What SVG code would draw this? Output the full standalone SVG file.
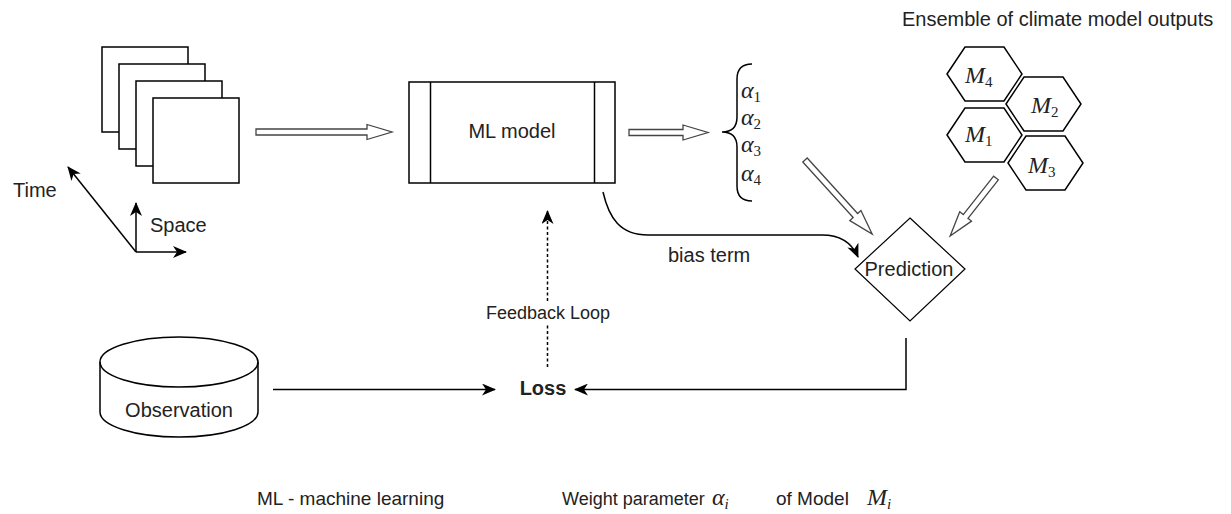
<svg xmlns="http://www.w3.org/2000/svg" width="1231" height="514" viewBox="0 0 1231 514">
<defs>
<marker id="arr" markerUnits="userSpaceOnUse" markerWidth="14" markerHeight="12" viewBox="0 0 14 12" refX="13" refY="6" orient="auto">
<path d="M0,0 L14,6 L0,12 L4,6 Z" fill="#000"/>
</marker>
<style>
text{font-family:"Liberation Sans",Arial,sans-serif;font-size:20px;fill:#222}
.m{font-family:"Liberation Serif","Times New Roman",serif;font-style:italic;font-size:24px}
.sub{font-family:"Liberation Serif","Times New Roman",serif;font-style:normal;font-size:15px}
.subi{font-family:"Liberation Serif","Times New Roman",serif;font-style:italic;font-size:15px}
.box{fill:#fff;stroke:#000;stroke-width:1.5}
.hol{fill:#fff;stroke:#444;stroke-width:1.3;stroke-linejoin:miter}
.ln{fill:none;stroke:#000;stroke-width:1.5}
</style>
</defs>
<rect width="1231" height="514" fill="#fff"/>

<g id="frames">
<rect class="box" x="102" y="47" width="86" height="85"/>
<rect class="box" x="119" y="64" width="86" height="85"/>
<rect class="box" x="136" y="81" width="86" height="85"/>
<rect class="box" x="153" y="98" width="86" height="85"/>
</g>

<g id="axes">
<line class="ln" x1="136" y1="252" x2="136" y2="203" marker-end="url(#arr)"/>
<line class="ln" x1="136" y1="252" x2="186" y2="252" marker-end="url(#arr)"/>
<line class="ln" x1="136" y1="252" x2="68" y2="167" marker-end="url(#arr)"/>
<text x="13" y="197">Time</text>
<text x="150" y="232">Space</text>
</g>

<g id="ml-model">
<rect class="box" x="409" y="82" width="206" height="101"/>
<line class="ln" x1="430.5" y1="82" x2="430.5" y2="183"/>
<line class="ln" x1="594.5" y1="82" x2="594.5" y2="183"/>
<text x="512" y="138" text-anchor="middle">ML model</text>
</g>

<g id="alphas">
<path class="ln" d="M752,64 Q737,64 737,79 L737,117 Q737,132 722,132 Q737,132 737,147 L737,186 Q737,201 752,201"/>
<text class="m" x="741" y="98">α<tspan class="sub" dy="4">1</tspan></text>
<text class="m" x="741" y="125">α<tspan class="sub" dy="4">2</tspan></text>
<text class="m" x="741" y="152">α<tspan class="sub" dy="4">3</tspan></text>
<text class="m" x="741" y="181">α<tspan class="sub" dy="4">4</tspan></text>
</g>

<g id="ensemble">
<text x="902" y="26">Ensemble of climate model outputs</text>
<polygon class="box" points="947,74 965,47 1004,47 1022,74 1004,101 965,101"/>
<polygon class="box" points="1006,104 1024,77 1063,77 1081,104 1063,131 1024,131"/>
<polygon class="box" points="947,135 965,108 1004,108 1022,135 1004,162 965,162"/>
<polygon class="box" points="1008,163 1026,136 1065,136 1083,163 1065,190 1026,190"/>
<text class="m" x="965" y="83">M<tspan class="sub" dy="4">4</tspan></text>
<text class="m" x="1031" y="113">M<tspan class="sub" dy="4">2</tspan></text>
<text class="m" x="965" y="142">M<tspan class="sub" dy="4">1</tspan></text>
<text class="m" x="1028" y="173">M<tspan class="sub" dy="4">3</tspan></text>
</g>

<g id="prediction">
<polygon class="box" points="910,218 965,269 910,321 855,269" style="stroke-width:1.2"/>
<text x="909" y="276" text-anchor="middle">Prediction</text>
</g>

<g id="observation">
<path class="box" d="M100,362 A79,25 0 0 1 258,362 L258,412 A79,25 0 0 1 100,412 Z"/>
<path class="ln" d="M100,362 A79,25 0 0 0 258,362"/>
<text x="179" y="417" text-anchor="middle">Observation</text>
</g>

<g id="loss">
<text x="543" y="395" text-anchor="middle" font-weight="bold">Loss</text>
</g>

<g id="connectors">
<polygon class="hol" points="256,129 367,129 367,124.5 392,132 367,139.5 367,135 256,135"/>
<polygon class="hol" points="629,129.5 683,129.5 683,125 708,132.5 683,140 683,135.5 629,135.5"/>
<g transform="translate(805,160) rotate(47.8)">
<polygon class="hol" points="0,-3 75,-3 75,-7.5 100,0 75,7.5 75,3 0,3"/>
</g>
<g transform="translate(996,178) rotate(128.3)">
<polygon class="hol" points="0,-3 49,-3 49,-7.5 74,0 49,7.5 49,3 0,3"/>
</g>
<path class="ln" d="M603,192 C609,218 620,235 648,235 L822,235 C840,235 852,243 858,257" marker-end="url(#arr)"/>
<text x="668" y="262">bias term</text>
<line class="ln" x1="273" y1="389.5" x2="495" y2="389.5" marker-end="url(#arr)"/>
<path class="ln" d="M906,338 L906,389.5 L575,389.5" marker-end="url(#arr)"/>
<line x1="547.5" y1="367" x2="547.5" y2="211" stroke="#000" stroke-width="1.5" stroke-dasharray="3,2.5" marker-end="url(#arr)"/>
<rect x="484" y="302" width="128" height="23" fill="#fff"/>
<text x="548" y="319" text-anchor="middle" style="font-size:18px">Feedback Loop</text>
</g>

<g id="legend">
<text x="257" y="505" style="font-size:19px">ML - machine learning</text>
<text x="562" y="505" style="font-size:18px">Weight parameter</text>
<text class="m" x="712" y="505">α<tspan class="subi" dy="4">i</tspan></text>
<text x="776" y="505" style="font-size:19px">of Model</text>
<text class="m" x="867" y="505">M<tspan class="subi" dy="4">i</tspan></text>
</g>
</svg>
